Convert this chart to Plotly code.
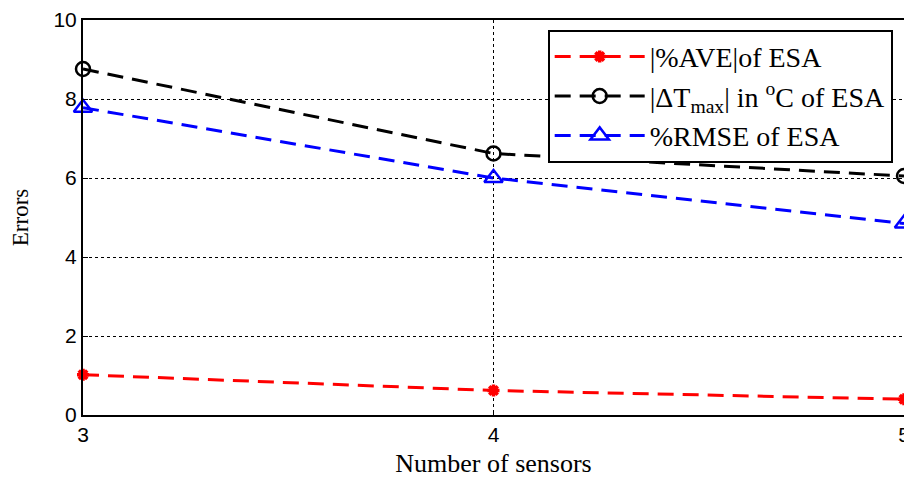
import plotly.graph_objects as go

sensors = [3, 4, 5]
ave_err = [1.02, 0.62, 0.40]
dtmax_err = [8.76, 6.62, 6.05]
rmse_err = [7.78, 6.0, 4.85]

names = ["|%AVE|of ESA", "|ΔT<sub>max</sub>| in <sup>o</sup>C of ESA", "%RMSE of ESA"]
x_ticks = [3, 4, 5]
y_ticks = [0, 2, 4, 6, 8, 10]

dash = "16px,9px"
fig = go.Figure()
fig.add_trace(go.Scatter(x=sensors, y=ave_err, name=names[0], mode="lines+markers", legendgroup="a",
                         line=dict(color="#ff0000", width=3, dash=dash),
                         marker=dict(symbol="asterisk-open", size=10, color="#ff0000",
                                     line=dict(color="#ff0000", width=3.5)),
                         cliponaxis=False))
fig.add_trace(go.Scatter(x=sensors, y=dtmax_err, name=names[1], mode="lines+markers", legendgroup="b",
                         line=dict(color="#000000", width=3, dash=dash),
                         marker=dict(symbol="circle-open", size=14, color="#000000",
                                     line=dict(color="#000000", width=2.5)),
                         cliponaxis=False))
fig.add_trace(go.Scatter(x=sensors, y=rmse_err, name=names[2], mode="lines+markers", legendgroup="c",
                         line=dict(color="#0000ff", width=3, dash=dash),
                         marker=dict(symbol="triangle-up-open", size=16, color="#0000ff",
                                     line=dict(color="#0000ff", width=2.5)),
                         cliponaxis=False))

axis_common = dict(showline=True, linecolor="black", linewidth=2, mirror=True,
                   ticks="inside", ticklen=5, tickcolor="black",
                   showgrid=True, gridcolor="black", griddash="dot", gridwidth=1,
                   zeroline=False, automargin=False,
                   tickfont=dict(family="Liberation Sans, Arial", size=21, color="black"))

fig.update_xaxes(range=[3, 5], tickvals=x_ticks, ticktext=[str(v) for v in x_ticks],
                 title=dict(text="Number of sensors", font=dict(family="Liberation Serif, Times New Roman", size=26, color="black"), standoff=9),
                 **axis_common)
fig.update_yaxes(range=[0, 10], tickvals=y_ticks, ticktext=[str(v) for v in y_ticks],
                 title=dict(text="Errors", font=dict(family="Liberation Serif, Times New Roman", size=23, color="black"), standoff=22),
                 **axis_common)

fig.update_layout(
    width=904, height=472,
    margin=dict(l=75, r=8, t=12, b=65),
    plot_bgcolor="white", paper_bgcolor="white",
    showlegend=True,
    legend=dict(x=0.566, y=0.975, xanchor="left", yanchor="top",
                bgcolor="white", bordercolor="black", borderwidth=2,
                font=dict(family="Liberation Serif, Times New Roman", size=28, color="black"),
                tracegroupgap=0, itemwidth=90),
)

fig.write_html("out.html")
